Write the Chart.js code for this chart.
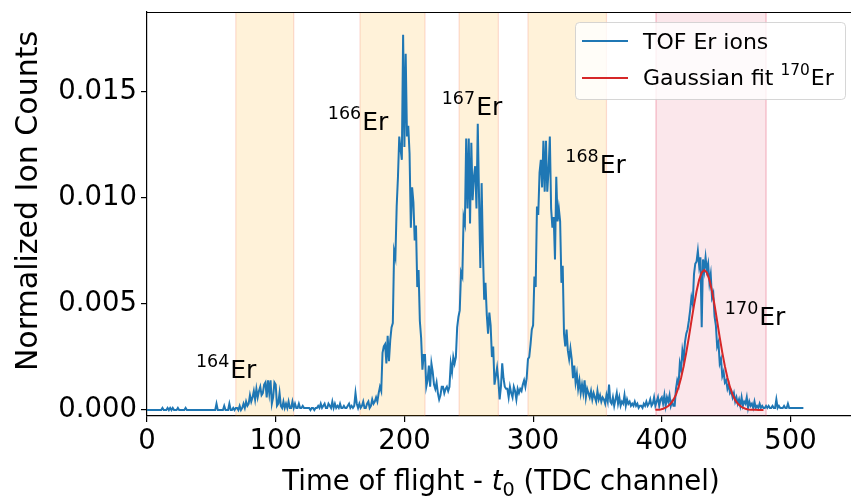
<!DOCTYPE html>
<html>
<head>
<meta charset="utf-8">
<script src="https://cdn.jsdelivr.net/npm/chart.js@4.4.1/dist/chart.umd.min.js"></script>
<style>
  html, body { margin: 0; padding: 0; background: #fff; }
</style>
</head>
<body>
<canvas id="tofChart" width="851" height="499"></canvas>
<script>
/* =====================================
   Data
===================================== */
// TOF histogram, one value per TDC channel, from channel 0
const counts = [
  /* 0   */ 0, 0, 0, 0, 0, 0, 0, 0, 0, 0,
  /* 10  */ 0, 0, 0.0001, 0, 0, 0, 0.0001, 0, 0.0001, 0,
  /* 20  */ 0.0001, 0, 0, 0, 0.0001, 0, 0, 0, 0, 0,
  /* 30  */ 0.0001, 0, 0, 0, 0, 0, 0, 0, 0, 0,
  /* 40  */ 0, 0, 0, 0, 0, 0, 0, 0, 0, 0,
  /* 50  */ 0, 0, 0, 0, 0.0003, 0, 0, 0, 0, 0,
  /* 60  */ 0.0002, 0, 0, 0, 0.0003, 0, 0, 0.0001, 0, 0.0001,
  /* 70  */ 0.0001, 0, 0.0002, 0, 0.0001, 0.0003, 0.0001, 0.0004, 0.0002, 0.0003,
  /* 80  */ 0.0007, 0.0004, 0.0006, 0.0009, 0.0005, 0.0010, 0.0006, 0.0009, 0.0011, 0.0007,
  /* 90  */ 0.0008, 0.0012, 0.0013, 0.0006, 0.0014, 0.0008, 0.0014, 0.0003, 0.0006, 0.0013,
  /* 100 */ 0.0012, 0.0002, 0.0003, 0.0008, 0.0002, 0.0001, 0.0004, 0.0001, 0.0003, 0.0001,
  /* 110 */ 0.0004, 0.0001, 0.0001, 0.0004, 0.0001, 0.0003, 0.0001, 0.0001, 0.0003, 0.0001,
  /* 120 */ 0.0001, 0.0002, 0.0001, 0.0001, 0.0001, 0.0001, 0.0001, 0, 0.0001, 0.0001,
  /* 130 */ 0, 0.0001, 0.0001, 0.0002, 0.0001, 0.0003, 0.0001, 0.0002, 0.0003, 0.0001,
  /* 140 */ 0.0001, 0.0003, 0.0002, 0.0001, 0.0004, 0.0001, 0.0003, 0.0001, 0.0002, 0.0001,
  /* 150 */ 0.0003, 0.0001, 0.0001, 0.0002, 0.0001, 0.0001, 0.0002, 0.0003, 0.0001, 0.0002,
  /* 160 */ 0.0001, 0.0002, 0.0008, 0.0003, 0.0001, 0.0003, 0.0001, 0.0002, 0.0004, 0.0001,
  /* 170 */ 0.0001, 0.0003, 0.0004, 0.0001, 0.0002, 0.0005, 0.0003, 0.0004, 0.0006, 0.0004,
  /* 180 */ 0.0008, 0.0011, 0.0009, 0.0027, 0.0030, 0.0031, 0.0022, 0.0035, 0.0023, 0.0033,
  /* 190 */ 0.0039, 0.0041, 0.0075, 0.0072, 0.0096, 0.0110, 0.0129, 0.0123, 0.0118, 0.0177,
  /* 200 */ 0.0124, 0.0168, 0.0129, 0.0134, 0.0121, 0.0086, 0.0105, 0.0098, 0.0080, 0.0087,
  /* 210 */ 0.0058, 0.0066, 0.0042, 0.0034, 0.0019, 0.0026, 0.0026, 0.0011, 0.0014, 0.0021,
  /* 220 */ 0.0011, 0.0022, 0.0018, 0.0012, 0.0010, 0.0013, 0.0008, 0.0005, 0.0007, 0.0011,
  /* 230 */ 0.0011, 0.0008, 0.0010, 0.0011, 0.0009, 0.0011, 0.0022, 0.0018, 0.0025, 0.0022,
  /* 240 */ 0.0025, 0.0039, 0.0044, 0.0047, 0.0065, 0.0063, 0.0091, 0.0088, 0.0128, 0.0095,
  /* 250 */ 0.0128, 0.0088, 0.0126, 0.0099, 0.0110, 0.0115, 0.0095, 0.0135, 0.0100, 0.0067,
  /* 260 */ 0.0107, 0.0075, 0.0052, 0.0060, 0.0045, 0.0036, 0.0046, 0.0040, 0.0025, 0.0030,
  /* 270 */ 0.0012, 0.0016, 0.0020, 0.0014, 0.0005, 0.0011, 0.0022, 0.0015, 0.0011, 0.0010,
  /* 280 */ 0.0010, 0.0006, 0.0011, 0.0008, 0.0006, 0.0011, 0.0009, 0.0005, 0.0010, 0.0008,
  /* 290 */ 0.0010, 0.0009, 0.0012, 0.0014, 0.0011, 0.0015, 0.0024, 0.0025, 0.0031, 0.0038,
  /* 300 */ 0.0040, 0.0063, 0.0058, 0.0096, 0.0092, 0.0112, 0.0118, 0.0105, 0.0127, 0.0103,
  /* 310 */ 0.0127, 0.0103, 0.0113, 0.0129, 0.0095, 0.0086, 0.0091, 0.0071, 0.0110, 0.0089,
  /* 320 */ 0.0095, 0.0089, 0.0060, 0.0068, 0.0036, 0.0030, 0.0038, 0.0028, 0.0024, 0.0029,
  /* 330 */ 0.0024, 0.0015, 0.0021, 0.0013, 0.0017, 0.0010, 0.0014, 0.0008, 0.0012, 0.0008,
  /* 340 */ 0.0014, 0.0006, 0.0010, 0.0008, 0.0006, 0.0009, 0.0005, 0.0008, 0.0006, 0.0004,
  /* 350 */ 0.0009, 0.0005, 0.0007, 0.0004, 0.0006, 0.0005, 0.0003, 0.0007, 0.0004, 0.0012,
  /* 360 */ 0.0004, 0.0003, 0.0006, 0.0002, 0.0005, 0.0008, 0.0003, 0.0006, 0.0002, 0.0004,
  /* 370 */ 0.0003, 0.0007, 0.0002, 0.0005, 0.0003, 0.0004, 0.0002, 0.0003, 0.0002, 0.0004,
  /* 380 */ 0.0002, 0.0003, 0.0001, 0.0002, 0.0002, 0.0001, 0.0003, 0.0002, 0.0004, 0.0002,
  /* 390 */ 0.0003, 0.0005, 0.0002, 0.0003, 0.0006, 0.0002, 0.0004, 0.0006, 0.0002, 0.0005,
  /* 400 */ 0.0006, 0.0003, 0.0007, 0.0002, 0.0006, 0.0004, 0.0007, 0.0002, 0.0004, 0.0002,
  /* 410 */ 0.0002, 0.0010, 0.0014, 0.0012, 0.0022, 0.0019, 0.0028, 0.0024, 0.0032, 0.0036,
  /* 420 */ 0.0038, 0.0042, 0.0047, 0.0053, 0.0050, 0.0064, 0.0069, 0.0070, 0.0075, 0.0068,
  /* 430 */ 0.0072, 0.0039, 0.0071, 0.0066, 0.0072, 0.0066, 0.0069, 0.0060, 0.0064, 0.0053,
  /* 440 */ 0.0055, 0.0044, 0.0040, 0.0030, 0.0032, 0.0022, 0.0024, 0.0016, 0.0018, 0.0013,
  /* 450 */ 0.0014, 0.0010, 0.0012, 0.0008, 0.0009, 0.0006, 0.0008, 0.0004, 0.0006, 0.0003,
  /* 460 */ 0.0005, 0.0002, 0.0006, 0.0002, 0.0004, 0.0003, 0.0006, 0.0001, 0.0004, 0.0002,
  /* 470 */ 0.0003, 0.0001, 0.0004, 0.0001, 0.0002, 0.0001, 0.0003, 0.0001, 0.0002, 0.0001,
  /* 480 */ 0.0001, 0.0002, 0.0001, 0.0002, 0.0001, 0.0001, 0.0002, 0.0001, 0.0001, 0.0005,
  /* 490 */ 0.0001, 0.0002, 0.0001, 0.0001, 0.0001, 0.0002, 0.0001, 0.0001, 0.0003, 0.0001,
  /* 500 */ 0.0001, 0.0001, 0.0001, 0.0001, 0.0001, 0.0001, 0.0001, 0.0001, 0.0001, 0.0001,
  /* 510 */ 0.0001
];

// Gaussian fit of 170Er, one value every 2 channels from channel 395
const fitStart = 395;
const fitStep = 2;
const fitCounts = [
  0.00001, 0.00002, 0.00003, 0.00006, 0.00011, 0.00019, 0.00031, 0.00048, 0.00073, 0.00108,
  0.00152, 0.00207, 0.00271, 0.00343, 0.00419, 0.00494, 0.00560, 0.00614, 0.00648, 0.00660,
  0.00648, 0.00614, 0.00560, 0.00494, 0.00419, 0.00343, 0.00271, 0.00207, 0.00152, 0.00108,
  0.00073, 0.00048, 0.00031, 0.00019, 0.00011, 0.00006, 0.00003, 0.00002, 0.00001, 0.00001,
  0, 0, 0
];

// shaded windows (TDC channel)
const bandStarts = [69, 165.5, 242.5, 296, 395.5];
const bandEnds   = [114, 216, 273, 357, 481];

// isotope labels and their anchors (channel, counts)
const isotopes = ['164', '166', '167', '168', '170'];
const isoX = [38, 140.5, 229, 325, 449];
const isoY = [0.0015, 0.0132, 0.0139, 0.0112, 0.0040];

const xTicks = [0, 100, 200, 300, 400, 500];
const yTicks = [0, 0.005, 0.010, 0.015];

/* =====================================
   Helpers
===================================== */
const FONT = '"DejaVu Sans"';
Chart.defaults.font.family = FONT;
Chart.defaults.color = '#000';

function drawIsotope(ctx, x, y, mass, size) {
  ctx.textAlign = 'left';
  ctx.textBaseline = 'alphabetic';
  ctx.font = (size * 0.7) + 'px ' + FONT;
  ctx.fillText(mass, x, y - size * 0.44);
  const w = ctx.measureText(mass).width;
  ctx.font = size + 'px ' + FONT;
  ctx.fillText('Er', x + w + 1, y);
}

/* =====================================
   Plugin: bands, labels, titles, legend
===================================== */
const decorations = {
  id: 'decorations',
  beforeDatasetsDraw(chart) {
    const { ctx, chartArea: a, scales: { x } } = chart;
    ctx.save();
    ctx.beginPath();
    ctx.rect(a.left, a.top, a.right - a.left, a.bottom - a.top);
    ctx.clip();
    bandStarts.forEach((s, i) => {
      const x0 = x.getPixelForValue(s);
      const x1 = x.getPixelForValue(bandEnds[i]);
      const last = i === bandStarts.length - 1;
      ctx.fillStyle = last ? 'rgba(220,20,60,0.1)' : 'rgba(255,165,0,0.15)';
      ctx.fillRect(x0, a.top, x1 - x0, a.bottom - a.top);
      ctx.strokeStyle = last ? 'rgba(220,20,60,0.28)' : 'rgba(240,90,60,0.2)';
      ctx.lineWidth = 1.2;
      [x0, x1].forEach(px => {
        ctx.beginPath();
        ctx.moveTo(px, a.top);
        ctx.lineTo(px, a.bottom);
        ctx.stroke();
      });
    });
    ctx.restore();
  },
  afterDatasetsDraw(chart) {
    const { ctx, scales: { x, y } } = chart;
    ctx.save();
    ctx.fillStyle = '#000';
    isotopes.forEach((m, i) => {
      drawIsotope(ctx, x.getPixelForValue(isoX[i]), y.getPixelForValue(isoY[i]), m, 25);
    });
    ctx.restore();
  },
  afterDraw(chart) {
    const { ctx, chartArea: a } = chart;
    ctx.save();
    // top spine
    ctx.strokeStyle = '#000';
    ctx.lineWidth = 1.2;
    ctx.beginPath();
    ctx.moveTo(a.left, a.top + 0.5);
    ctx.lineTo(a.right, a.top + 0.5);
    ctx.stroke();

    // y axis title
    ctx.fillStyle = '#000';
    ctx.save();
    ctx.translate(29, 201);
    ctx.rotate(-Math.PI / 2);
    ctx.font = '30px ' + FONT;
    ctx.textAlign = 'center';
    ctx.textBaseline = 'middle';
    ctx.fillText('Normalized Ion Counts', 0, 0);
    ctx.restore();

    // x axis title with t_0
    const size = 27.5;
    const parts = [
      { t: 'Time of flight - ', f: size + 'px ' + FONT, dy: 0 },
      { t: 't', f: 'oblique ' + size + 'px ' + FONT, dy: 0 },
      { t: '0', f: (size * 0.7) + 'px ' + FONT, dy: size * 0.2 },
      { t: ' (TDC channel)', f: size + 'px ' + FONT, dy: 0 }
    ];
    let total = 0;
    parts.forEach(p => { ctx.font = p.f; p.w = ctx.measureText(p.t).width; total += p.w; });
    let px = (a.left + a.right) / 2 + 2 - total / 2;
    ctx.textAlign = 'left';
    ctx.textBaseline = 'alphabetic';
    parts.forEach(p => {
      ctx.font = p.f;
      ctx.fillText(p.t, px, 490 + p.dy);
      px += p.w;
    });

    // legend
    const lx = 575, ly = 22, lw = 270, lh = 77;
    ctx.fillStyle = 'rgba(255,255,255,0.8)';
    ctx.strokeStyle = 'rgba(204,204,204,0.8)';
    ctx.lineWidth = 1;
    ctx.beginPath();
    ctx.roundRect(lx + 0.5, ly + 0.5, lw, lh, 4);
    ctx.fill();
    ctx.stroke();

    ctx.lineWidth = 2;
    ctx.strokeStyle = '#1f77b4';
    ctx.beginPath(); ctx.moveTo(582, 41); ctx.lineTo(628, 41); ctx.stroke();
    ctx.strokeStyle = '#d62728';
    ctx.beginPath(); ctx.moveTo(582, 78); ctx.lineTo(628, 78); ctx.stroke();

    ctx.fillStyle = '#000';
    ctx.font = '22px ' + FONT;
    ctx.fillText('TOF Er ions', 643, 49);
    const g = 'Gaussian fit ';
    ctx.fillText(g, 643, 85);
    const gw = ctx.measureText(g).width;
    ctx.font = (22 * 0.7) + 'px ' + FONT;
    ctx.fillText('170', 643 + gw, 85 - 22 * 0.44);
    const sw = ctx.measureText('170').width;
    ctx.font = '22px ' + FONT;
    ctx.fillText('Er', 643 + gw + sw + 1, 85);
    ctx.restore();
  }
};

/* =====================================
   Chart
===================================== */
const tofPoints = counts.map((v, i) => ({ x: i, y: v }));
const fitPoints = fitCounts.map((v, i) => ({ x: fitStart + i * fitStep, y: v }));

new Chart(document.getElementById('tofChart'), {
  type: 'line',
  data: {
    datasets: [
      { label: 'Gaussian fit 170Er', data: fitPoints, borderColor: '#d62728', borderWidth: 2, pointRadius: 0, tension: 0, order: 0 },
      { label: 'TOF Er ions', data: tofPoints, borderColor: '#1f77b4', borderWidth: 2, pointRadius: 0, tension: 0, order: 1 }
    ]
  },
  options: {
    responsive: false,
    animation: false,
    layout: { padding: { top: 12, right: 0, bottom: 0, left: 0 } },
    plugins: { legend: { display: false }, tooltip: { enabled: false } },
    scales: {
      x: {
        type: 'linear',
        min: 0,
        max: 547,
        afterBuildTicks: s => { s.ticks = xTicks.map(v => ({ value: v })); },
        afterFit: s => { s.height = 83; s.paddingLeft = 0; s.paddingRight = 0; },
        ticks: { font: { size: 27.5 }, padding: 3, maxRotation: 0, callback: v => String(v) },
        grid: { drawOnChartArea: false, drawTicks: true, tickLength: 6, color: '#000', lineWidth: 1.2 },
        border: { color: '#000', width: 1.2 }
      },
      y: {
        min: -0.00028,
        max: 0.01877,
        afterBuildTicks: s => { s.ticks = yTicks.map(v => ({ value: v })); },
        afterFit: s => { s.width = 147; s.paddingTop = 0; s.paddingBottom = 0; },
        ticks: { font: { size: 27.5 }, padding: 4, callback: v => v.toFixed(3) },
        grid: { drawOnChartArea: false, drawTicks: true, tickLength: 6, color: '#000', lineWidth: 1.2 },
        border: { color: '#000', width: 1.2 }
      }
    }
  },
  plugins: [decorations]
});
</script>
</body>
</html>
